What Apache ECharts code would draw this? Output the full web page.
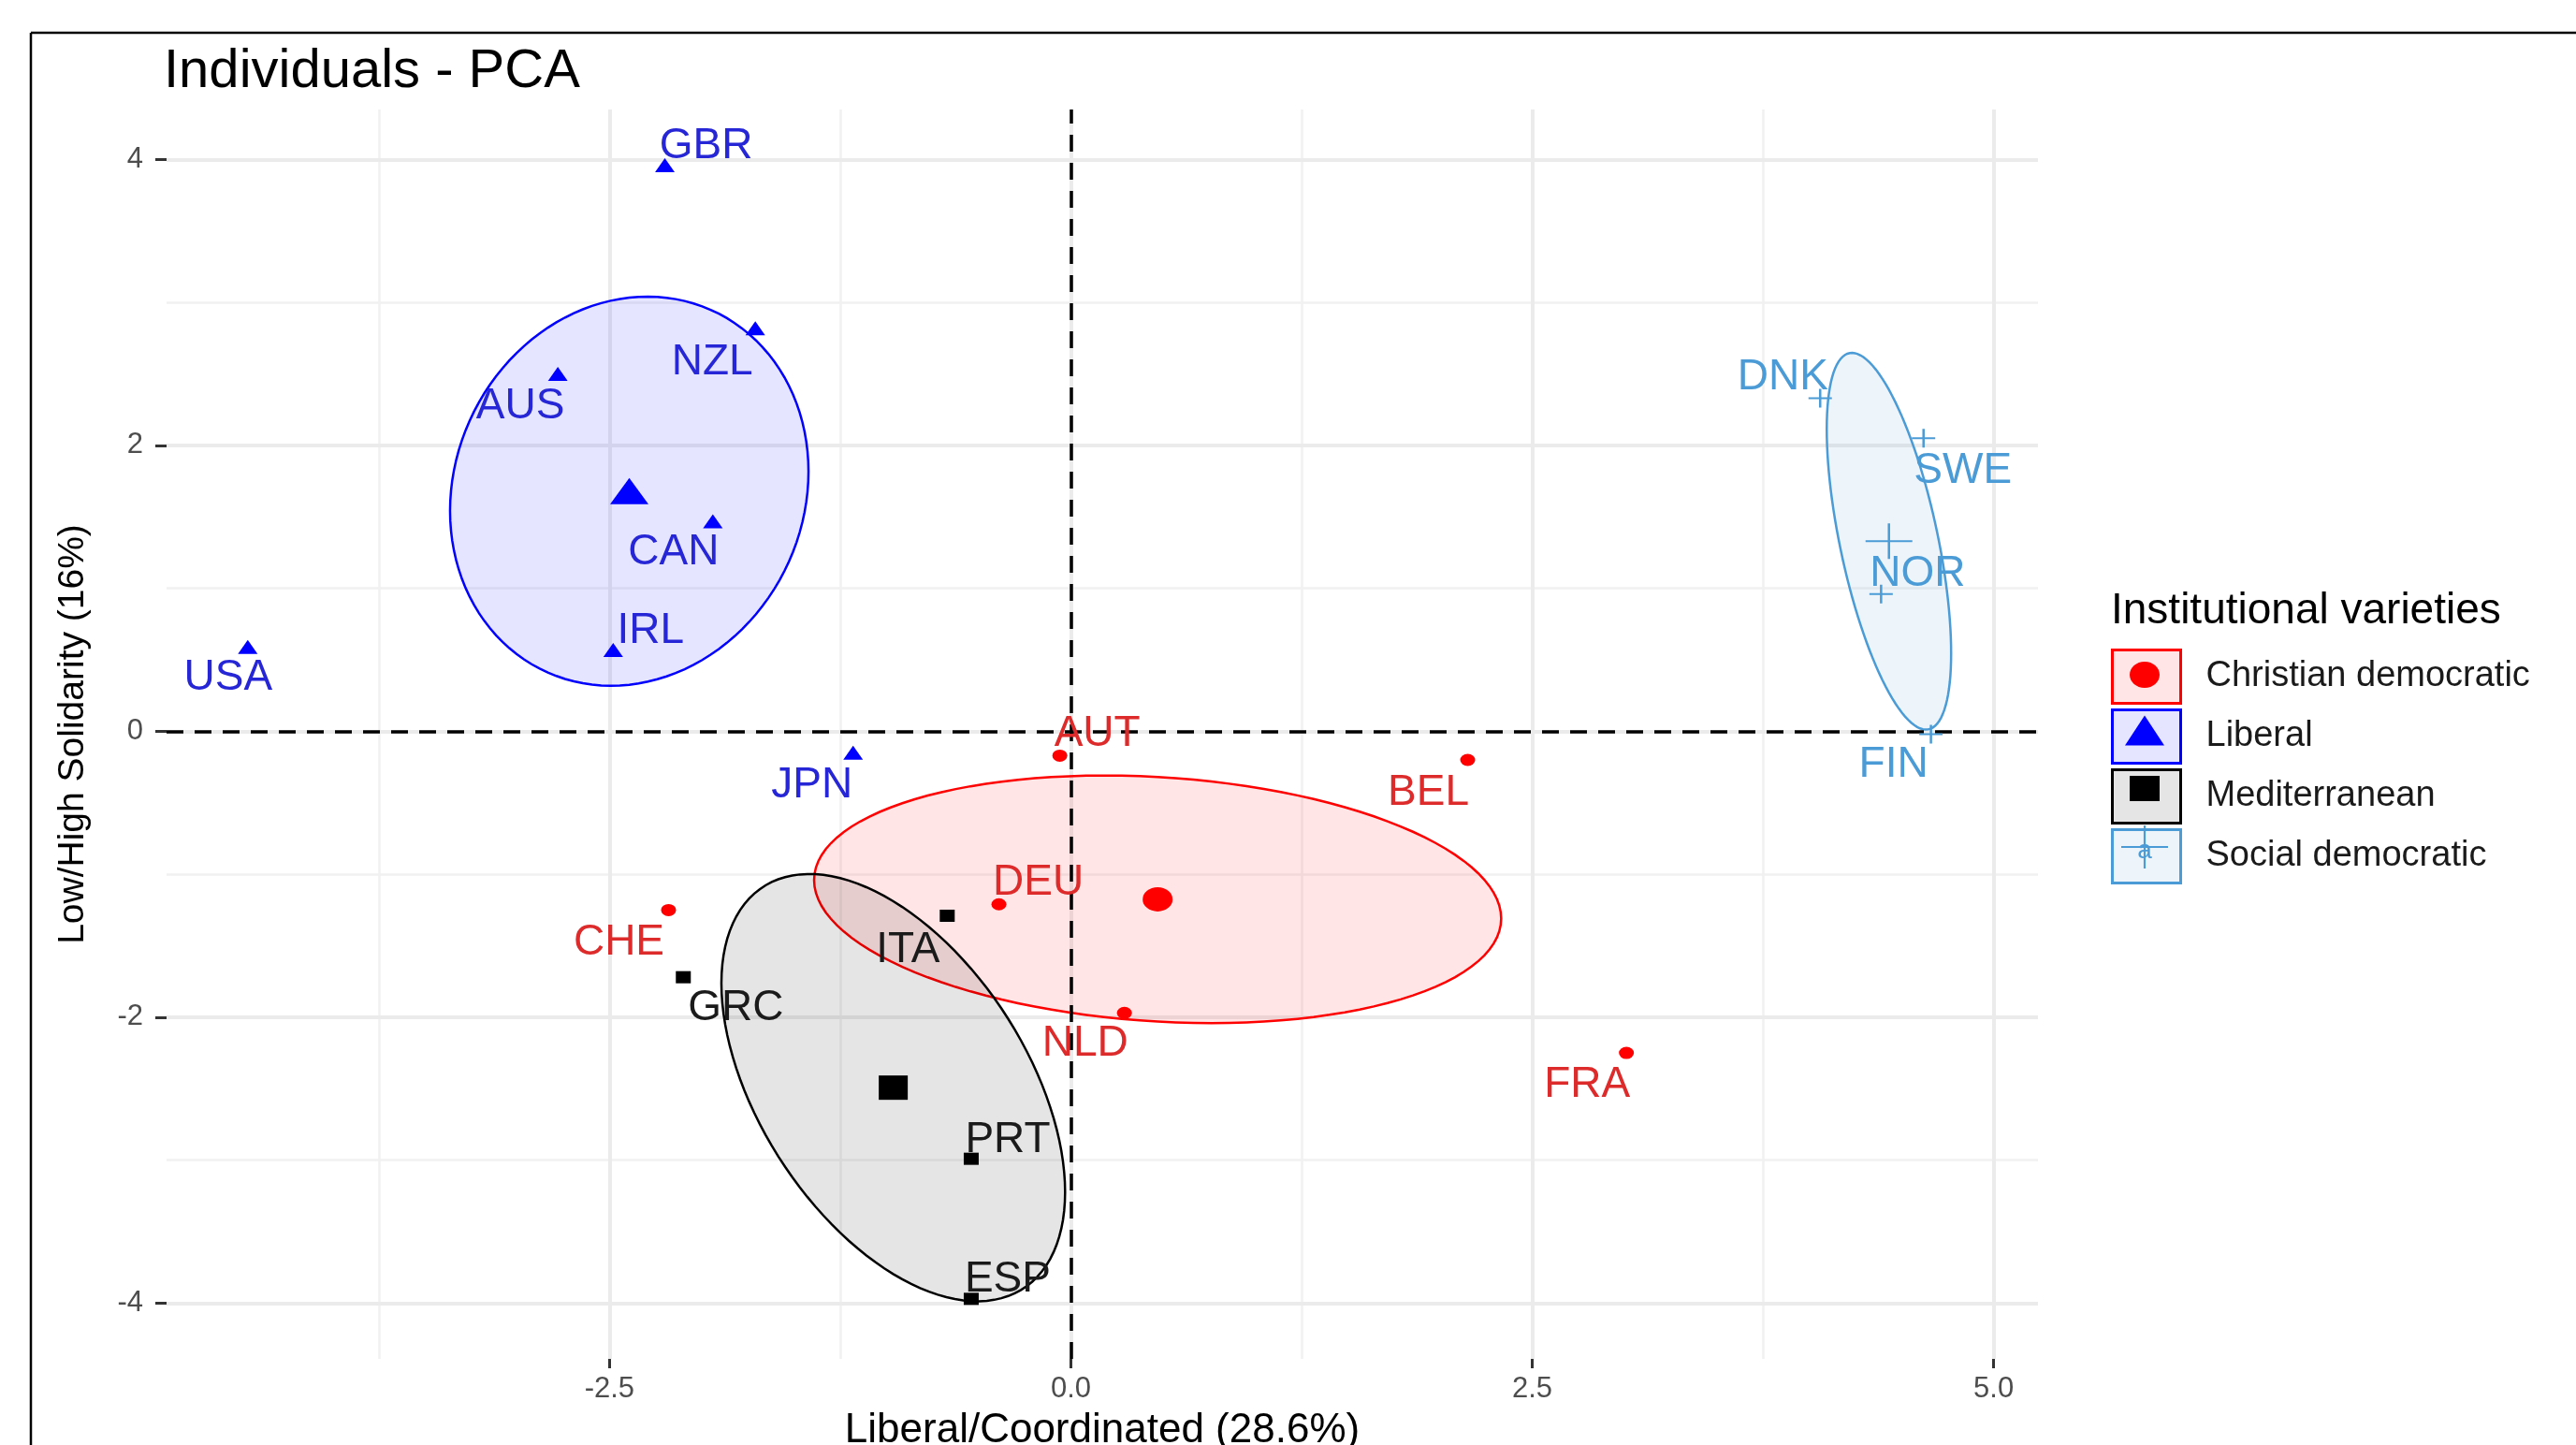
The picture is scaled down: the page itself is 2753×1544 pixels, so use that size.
<!DOCTYPE html>
<html><head><meta charset="utf-8">
<script src="https://cdn.jsdelivr.net/npm/echarts@6/dist/echarts.min.js"></script>
<style>html,body{margin:0;padding:0;background:#fff;overflow:hidden}#c{width:2753px;height:1544px}</style>
</head><body><div id="c"></div>
<script>
// ---- data ----
const groupNames = ['Christian democratic', 'Liberal', 'Mediterranean', 'Social democratic'];

const cdNames = ['AUT', 'BEL', 'CHE', 'DEU', 'FRA', 'NLD'];
const cdX = [-0.06, 2.15, -2.18, -0.39, 3.01, 0.29];
const cdY = [-0.17, -0.20, -1.25, -1.21, -2.25, -1.97];

const libNames = ['AUS', 'CAN', 'GBR', 'IRL', 'JPN', 'NZL', 'USA'];
const libX = [-2.78, -1.94, -2.20, -2.48, -1.18, -1.71, -4.46];
const libY = [2.50, 1.47, 3.96, 0.57, -0.15, 2.82, 0.59];

const medNames = ['ESP', 'GRC', 'ITA', 'PRT'];
const medX = [-0.54, -2.10, -0.67, -0.54];
const medY = [-3.97, -1.72, -1.29, -2.99];

const sdNames = ['DNK', 'FIN', 'NOR', 'SWE'];
const sdX = [4.06, 4.66, 4.39, 4.62];
const sdY = [2.33, -0.02, 0.96, 2.05];

const xTicks = [-2.5, 0, 2.5, 5];
const xTickLabels = ['-2.5', '0.0', '2.5', '5.0'];
const yTicks = [-4, -2, 0, 2, 4];
const yTickLabels = ['-4', '-2', '0', '2', '4'];
const xMinor = [-3.75, -1.25, 1.25, 3.75];
const yMinor = [-3, -1, 1, 3];
const refLines = [0];

// ---- styling / layout (not data) ----
const FONT = '"Liberation Sans", Arial, sans-serif';
const groupColor = ['#FF0000', '#0000FF', '#000000', '#4B9BD6'];
const textColor = ['#DD2A2A', '#2626D6', '#1A1A1A', '#4B9BD6'];
const fillColor = ['rgba(255,0,0,0.1)', 'rgba(0,0,255,0.1)', 'rgba(0,0,0,0.1)', 'rgba(75,155,214,0.1)'];
const plusSmall = 'path://M0,9 L20,9 L20,11 L0,11 Z M9,0 L11,0 L11,20 L9,20 Z';
const plusBig = 'path://M0,19 L40,19 L40,21 L0,21 Z M19,0 L21,0 L21,40 L19,40 Z';
const symbols = ['circle', 'triangle', 'rect', plusSmall];
const symbolsBig = ['circle', 'triangle', 'rect', plusBig];
const symSize = [[16, 13], [21, 15], [16, 13], [25, 20]];
const symSizeBig = [[32, 26], [41, 28], [31, 26], [50, 38]];
const LABEL_DY = 5;
const labelOffsets = {
  GBR: [44, -25], NZL: [-46, 32], AUS: [-40, 30], CAN: [-42, 28], IRL: [40, -25], USA: [-21, 28], JPN: [-44, 30],
  CHE: [-53, 30], GRC: [56, 28], ITA: [-42, 32], AUT: [40, -28], BEL: [-42, 30], DEU: [42, -28], NLD: [-42, 28],
  FRA: [-42, 29], PRT: [39, -25], ESP: [39, -26], DNK: [-40, -27], SWE: [42, 30], NOR: [39, -26], FIN: [-40, 28]
};

const groups = [
  { names: cdNames, xs: cdX, ys: cdY },
  { names: libNames, xs: libX, ys: libY },
  { names: medNames, xs: medX, ys: medY },
  { names: sdNames, xs: sdX, ys: sdY }
];

function mean(a) { return a.reduce((s, v) => s + v, 0) / a.length; }

// confidence ellipse of the group mean (95%, chi-square 2 df)
function ellipsePoints(xs, ys) {
  const n = xs.length, mx = mean(xs), my = mean(ys);
  let sxx = 0, syy = 0, sxy = 0;
  for (let i = 0; i < n; i++) {
    sxx += (xs[i] - mx) ** 2; syy += (ys[i] - my) ** 2; sxy += (xs[i] - mx) * (ys[i] - my);
  }
  sxx /= (n - 1) * n; syy /= (n - 1) * n; sxy /= (n - 1) * n;
  const r = Math.sqrt(-2 * Math.log(0.05));
  const a = Math.sqrt(sxx), b = sxy / a, c = Math.sqrt(syy - b * b);
  const pts = [];
  for (let k = 0; k <= 120; k++) {
    const t = 2 * Math.PI * k / 120;
    pts.push([mx + r * a * Math.cos(t), my + r * (b * Math.cos(t) + c * Math.sin(t))]);
  }
  return pts;
}

const series = [];
// grid lines
series.push({
  type: 'scatter', data: [], silent: true, z: 1,
  markLine: {
    silent: true, symbol: ['none', 'none'], label: { show: false }, z: 1, animation: false,
    data: [].concat(
      xMinor.map(v => ({ xAxis: v, lineStyle: { color: '#F1F1F1', width: 2.5, type: 'solid' } })),
      yMinor.map(v => ({ yAxis: v, lineStyle: { color: '#F1F1F1', width: 2.5, type: 'solid' } })),
      xTicks.map(v => ({ xAxis: v, lineStyle: { color: '#EBEBEB', width: 4, type: 'solid' } })),
      yTicks.map(v => ({ yAxis: v, lineStyle: { color: '#EBEBEB', width: 4, type: 'solid' } }))
    )
  }
});

// ellipses
groups.forEach((g, gi) => {
  const pts = ellipsePoints(g.xs, g.ys);
  series.push({
    type: 'custom', coordinateSystem: 'cartesian2d', silent: true, z: 2,
    data: [[mean(g.xs), mean(g.ys)]],
    renderItem: (params, api) => ({
      type: 'polygon',
      shape: { points: pts.map(p => api.coord(p)) },
      style: { fill: fillColor[gi], stroke: groupColor[gi], lineWidth: 2.5 }
    })
  });
});

// dashed reference lines
series.push({
  type: 'scatter', data: [], silent: true, z: 3,
  markLine: {
    silent: true, symbol: ['none', 'none'], label: { show: false }, z: 3, animation: false,
    lineStyle: { color: '#000', width: 3.5, type: [18, 12] },
    data: [].concat(refLines.map(v => ({ xAxis: v })), refLines.map(v => ({ yAxis: v })))
  }
});

// points + labels + group means
groups.forEach((g, gi) => {
  const data = g.names.map((nm, i) => ({
    name: nm, value: [g.xs[i], g.ys[i]],
    label: { offset: [labelOffsets[nm][0], labelOffsets[nm][1] + LABEL_DY] }
  }));
  data.push({
    name: groupNames[gi] + ' mean', value: [mean(g.xs), mean(g.ys)],
    symbol: symbolsBig[gi], symbolSize: symSizeBig[gi], label: { show: false }
  });
  series.push({
    type: 'scatter', name: groupNames[gi], z: 4,
    symbol: symbols[gi], symbolSize: symSize[gi],
    itemStyle: { color: groupColor[gi], opacity: 1 },
    label: {
      show: true, position: 'inside', formatter: p => p.name,
      fontSize: 46, fontFamily: FONT, color: textColor[gi]
    },
    emphasis: { disabled: true },
    data: data
  });
});

// legend key decorations (markers drawn inside the key boxes)
const kx = 2292, rows = [721, 781.5, 842.5, 905];
const graphics = [
  { type: 'line', shape: { x1: 33, y1: 35, x2: 2753, y2: 35 }, style: { stroke: '#000', lineWidth: 2.5 } },
  { type: 'line', shape: { x1: 33, y1: 35, x2: 33, y2: 1544 }, style: { stroke: '#000', lineWidth: 2.5 } }
];
rows.forEach((ry, i) => {
  graphics.push({ type: 'text', x: kx, y: ry + 4, z: 100, style: { text: 'a', font: '28px ' + FONT, fill: groupColor[i], textAlign: 'center', textVerticalAlign: 'middle' } });
});
graphics.push({ type: 'ellipse', z: 101, shape: { cx: kx, cy: rows[0], rx: 16, ry: 14 }, style: { fill: groupColor[0] } });
graphics.push({ type: 'polygon', z: 101, shape: { points: [[kx - 21, rows[1] + 15], [kx + 21, rows[1] + 15], [kx, rows[1] - 17]] }, style: { fill: groupColor[1] } });
graphics.push({ type: 'rect', z: 101, shape: { x: kx - 16, y: rows[2] - 13.5, width: 32, height: 27 }, style: { fill: groupColor[2] } });
graphics.push({ type: 'line', z: 101, shape: { x1: kx - 25, y1: rows[3], x2: kx + 25, y2: rows[3] }, style: { stroke: groupColor[3], lineWidth: 2.2 } });
graphics.push({ type: 'line', z: 101, shape: { x1: kx, y1: rows[3] - 23, x2: kx, y2: rows[3] + 23 }, style: { stroke: groupColor[3], lineWidth: 2.2 } });

const hiddenAxisLine = { show: true, onZero: false, lineStyle: { color: 'rgba(0,0,0,0)', width: 0 } };

const option = {
  animation: false,
  backgroundColor: '#fff',
  title: [
    { text: 'Individuals - PCA', left: 175, top: 48, padding: 0, textStyle: { fontSize: 58, fontWeight: 'normal', color: '#000', fontFamily: FONT } },
    { text: 'Institutional varieties', left: 2256, top: 630, padding: 0, textStyle: { fontSize: 46, fontWeight: 'normal', color: '#000', fontFamily: FONT } }
  ],
  grid: { left: 178, top: 117, width: 2000, height: 1335, containLabel: false, outerBoundsMode: 'none' },
  xAxis: {
    type: 'value', min: -4.90, max: 5.24,
    axisLine: hiddenAxisLine, splitLine: { show: false },
    axisTick: { show: true, customValues: xTicks, length: 10, lineStyle: { color: '#333', width: 3 } },
    axisLabel: { customValues: xTicks, formatter: v => xTickLabels[xTicks.indexOf(v)], margin: 17, fontSize: 31, color: '#4D4D4D', fontFamily: FONT },
    name: 'Liberal/Coordinated (28.6%)', nameLocation: 'middle', nameGap: 55,
    nameTextStyle: { fontSize: 44, color: '#000', fontFamily: FONT }
  },
  yAxis: {
    type: 'value', min: -4.39, max: 4.35,
    axisLine: hiddenAxisLine, splitLine: { show: false },
    axisTick: { show: true, customValues: yTicks, length: 12, lineStyle: { color: '#333', width: 3 } },
    axisLabel: { customValues: yTicks, formatter: v => yTickLabels[yTicks.indexOf(v)], margin: 25, fontSize: 31, color: '#4D4D4D', fontFamily: FONT },
    name: 'Low/High Solidarity (16%)', nameLocation: 'middle', nameGap: 80,
    nameTextStyle: { fontSize: 39, color: '#000', fontFamily: FONT }
  },
  legend: {
    orient: 'vertical', left: 2256, top: 693, padding: 0,
    itemWidth: 73, itemHeight: 57, itemGap: 4, selectedMode: false,
    textStyle: { fontSize: 38, color: '#1A1A1A', fontFamily: FONT, padding: [0, 0, 0, 22] },
    data: groupNames.map((nm, i) => ({
      name: nm, icon: 'rect',
      itemStyle: { color: fillColor[i], borderColor: groupColor[i], borderWidth: 3, opacity: 1 }
    }))
  },
  graphic: graphics,
  series: series
};

const chart = echarts.init(document.getElementById('c'));
chart.setOption(option);
</script>
</body></html>
